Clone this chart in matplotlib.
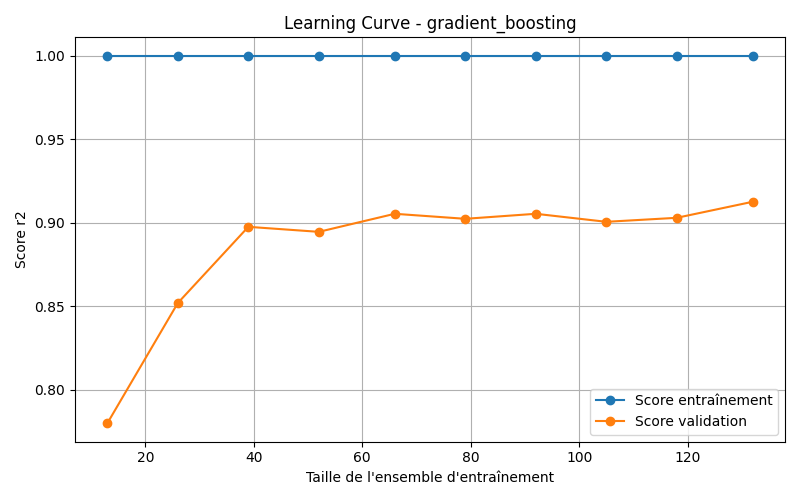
import matplotlib
matplotlib.use("Agg")
import matplotlib.pyplot as plt

train_sizes = [13, 26, 39, 52, 66, 79, 92, 105, 118, 132]
train_scores = [1.0, 1.0, 1.0, 1.0, 1.0, 1.0, 1.0, 1.0, 1.0, 1.0]
val_scores = [0.780, 0.852, 0.8976, 0.8946, 0.9054, 0.9024, 0.9054, 0.9006, 0.903, 0.9126]

fig, ax = plt.subplots(figsize=(8, 5), dpi=100)
ax.plot(train_sizes, train_scores, 'o-', label='Score entraînement')
ax.plot(train_sizes, val_scores, 'o-', label='Score validation')
ax.set_xlabel("Taille de l'ensemble d'entraînement")
ax.set_ylabel('Score r2')
ax.set_title('Learning Curve - gradient_boosting')
ax.legend(loc='lower right')
ax.grid(True)
plt.tight_layout()
plt.savefig('out.png')
